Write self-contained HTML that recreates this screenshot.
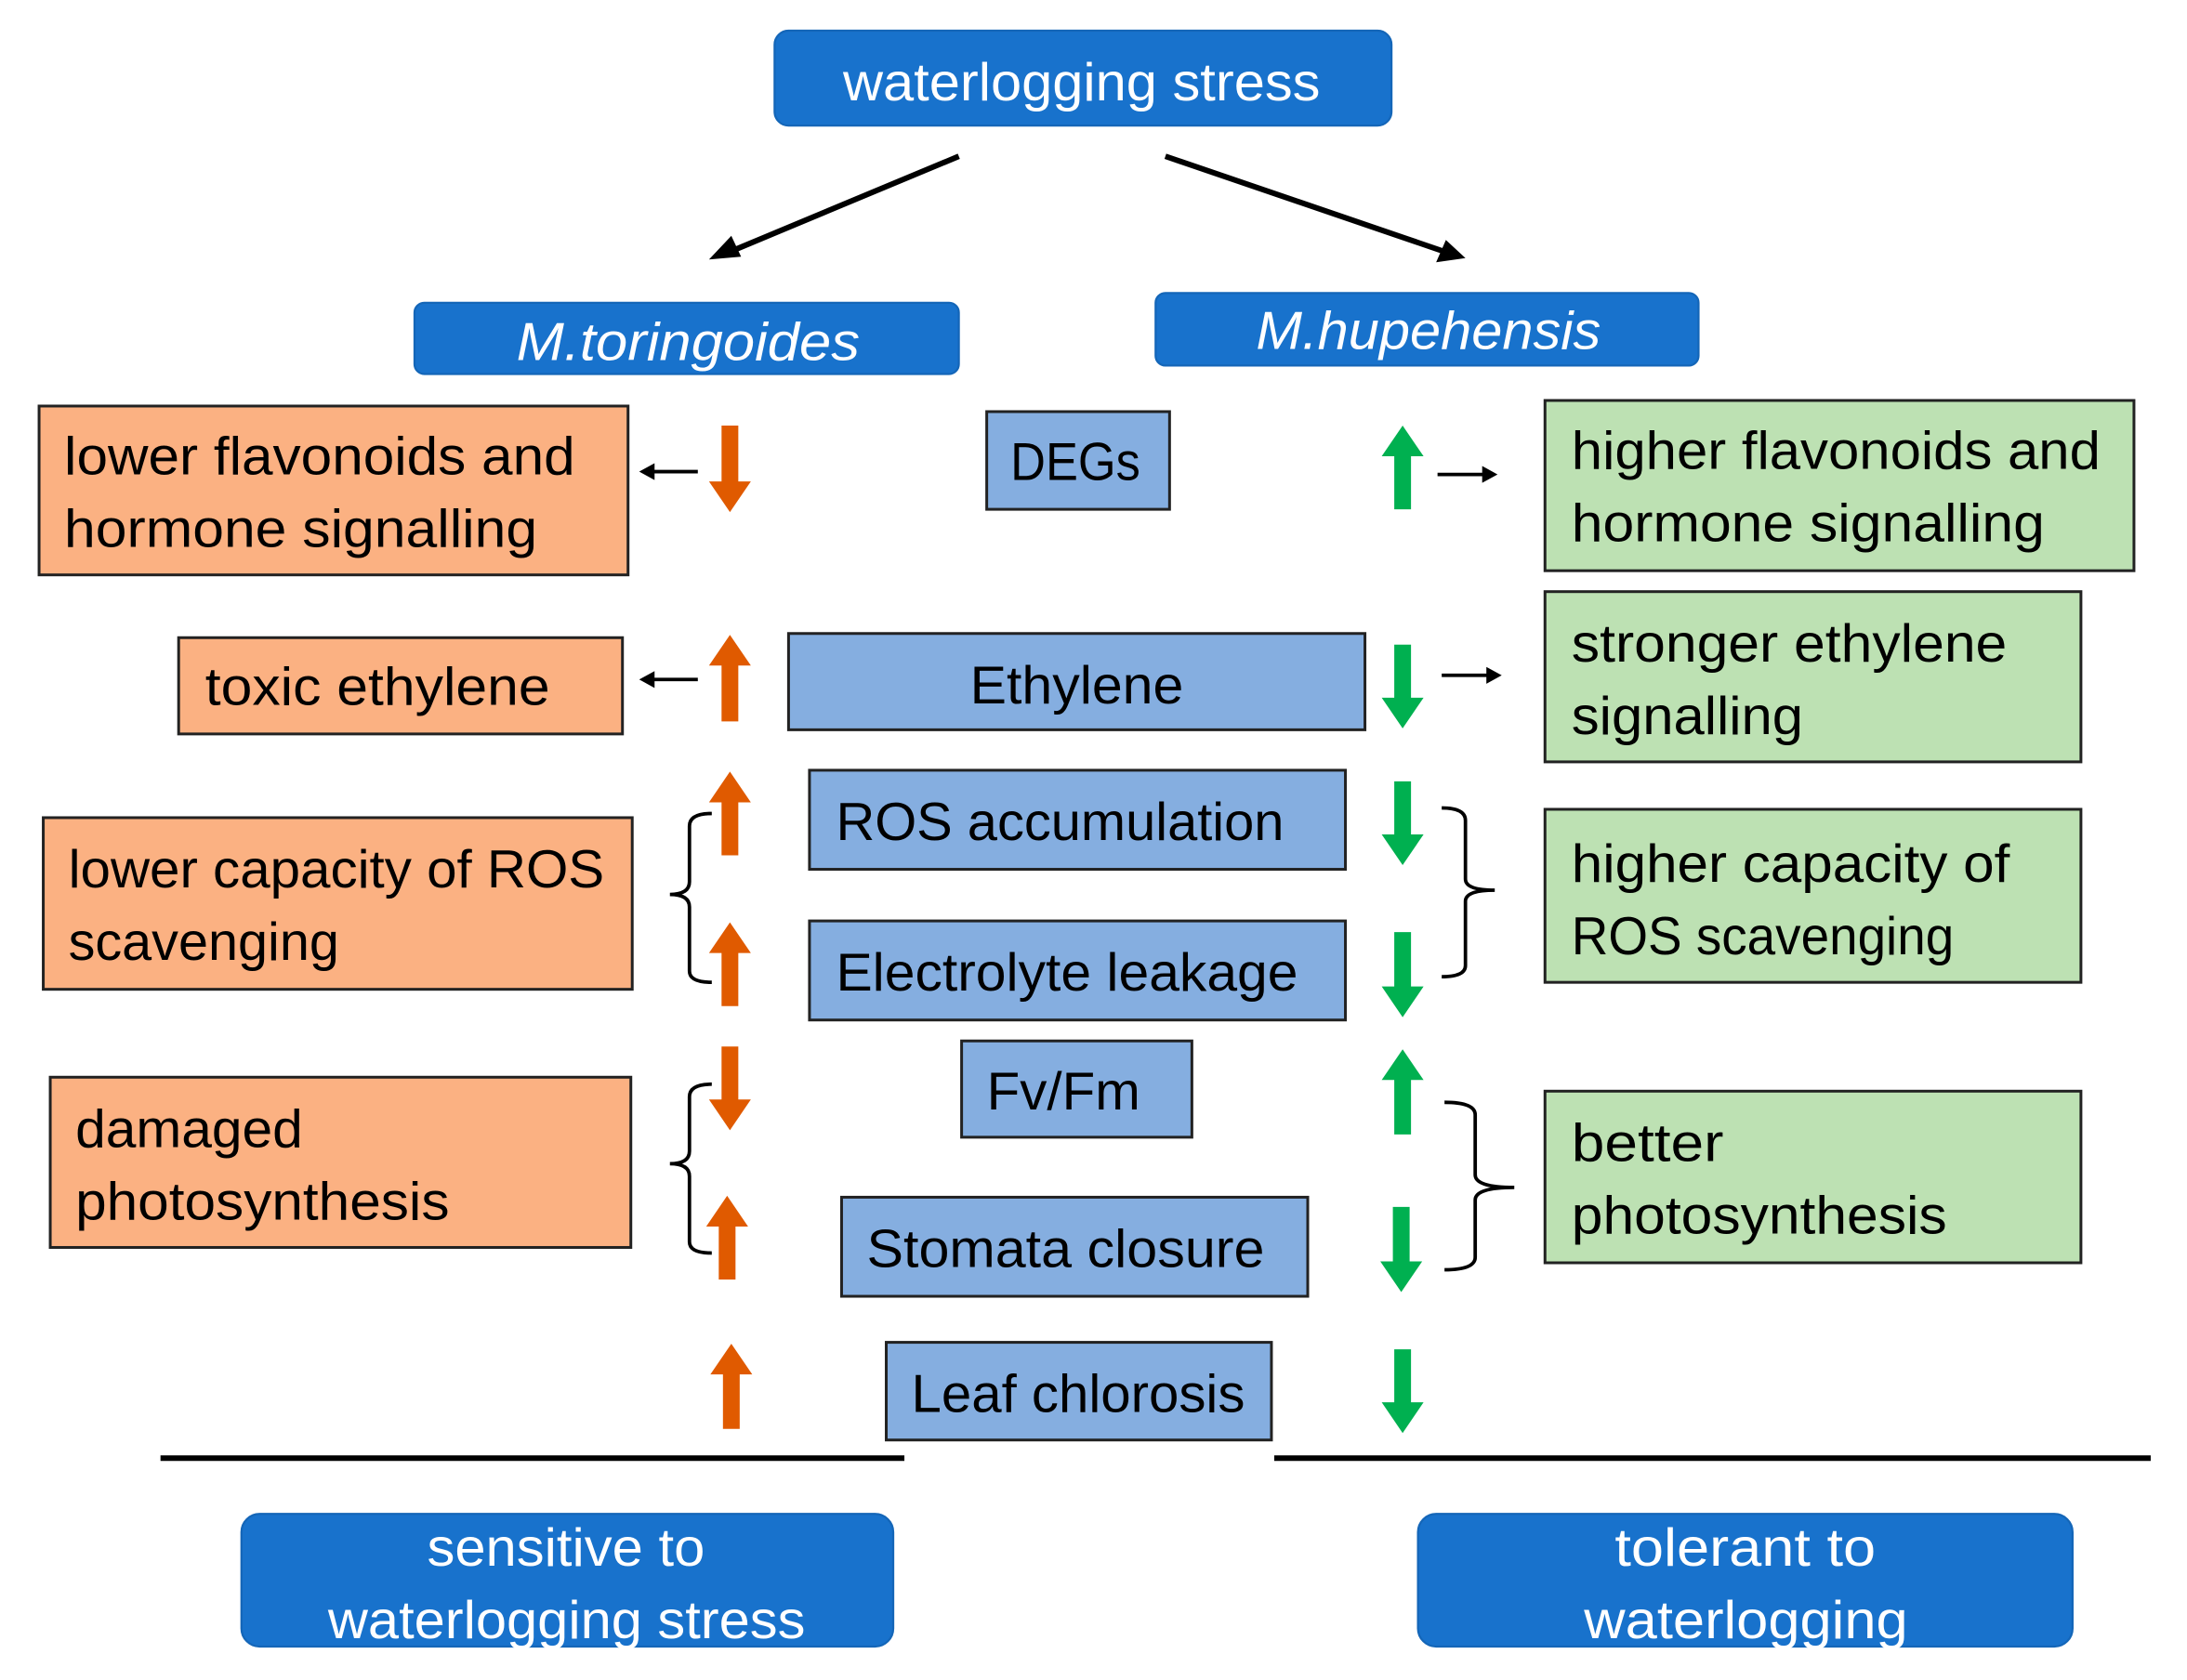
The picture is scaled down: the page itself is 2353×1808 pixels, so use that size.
<!DOCTYPE html>
<html><head><meta charset="utf-8"><style>
html,body{margin:0;padding:0;background:#fff;}
svg{display:block;}
text{font-family:"Liberation Sans",sans-serif;}
</style></head><body>
<svg width="2353" height="1808" viewBox="0 0 1567 1204" preserveAspectRatio="none" xmlns="http://www.w3.org/2000/svg">
<rect width="1567" height="1204" fill="#fff"/>
<g fill="#1872cc" stroke="#1466b8" stroke-width="1.5">
<rect x="555" y="22" width="442" height="68" rx="10"/>
<rect x="297" y="217" width="390" height="51" rx="7"/>
<rect x="828" y="210" width="389" height="52" rx="7"/>
<rect x="173" y="1085" width="467" height="95" rx="13"/>
<rect x="1016" y="1085" width="469" height="95" rx="13"/>
</g>
<g fill="#fff" font-size="38">
<text x="604" y="72" textLength="342" lengthAdjust="spacingAndGlyphs">waterlogging stress</text>
<text x="370" y="258" font-style="italic" textLength="246" lengthAdjust="spacingAndGlyphs">M.toringoides</text>
<text x="900" y="250" font-style="italic" textLength="247" lengthAdjust="spacingAndGlyphs">M.hupehensis</text>
<text x="306" y="1122" textLength="199" lengthAdjust="spacingAndGlyphs">sensitive to</text>
<text x="235" y="1174" textLength="342" lengthAdjust="spacingAndGlyphs">waterlogging stress</text>
<text x="1157" y="1122" textLength="187" lengthAdjust="spacingAndGlyphs">tolerant to</text>
<text x="1135" y="1174" textLength="232" lengthAdjust="spacingAndGlyphs">waterlogging</text>
</g>
<g stroke="#000" stroke-width="4" fill="none">
<line x1="687" y1="112" x2="524" y2="180"/>
<line x1="835" y1="112" x2="1034" y2="180"/>
<line x1="115" y1="1045" x2="648" y2="1045"/>
<line x1="913" y1="1045" x2="1541" y2="1045"/>
</g>
<polygon points="508,186 524,169 531,184" fill="#000"/>
<polygon points="1050,185 1029,188 1036,172" fill="#000"/>
<g stroke="#222" stroke-width="2">
<g fill="#fbb182">
<rect x="28" y="291" width="422" height="121"/>
<rect x="128" y="457" width="318" height="69"/>
<rect x="31" y="586" width="422" height="123"/>
<rect x="36" y="772" width="416" height="122"/>
</g>
<g fill="#bde1b3">
<rect x="1107" y="287" width="422" height="122"/>
<rect x="1107" y="424" width="384" height="122"/>
<rect x="1107" y="580" width="384" height="124"/>
<rect x="1107" y="782" width="384" height="123"/>
</g>
<g fill="#85aee0">
<rect x="707" y="295" width="131" height="70"/>
<rect x="565" y="454" width="413" height="69"/>
<rect x="580" y="552" width="384" height="71"/>
<rect x="580" y="660" width="384" height="71"/>
<rect x="689" y="746" width="165" height="69"/>
<rect x="603" y="858" width="334" height="71"/>
<rect x="635" y="962" width="276" height="70"/>
</g>
</g>
<g fill="#000" font-size="38">
<text x="46" y="340" textLength="366" lengthAdjust="spacingAndGlyphs">lower flavonoids and</text>
<text x="46" y="392" textLength="339" lengthAdjust="spacingAndGlyphs">hormone signalling</text>
<text x="147" y="505" textLength="247" lengthAdjust="spacingAndGlyphs">toxic ethylene</text>
<text x="49" y="636" textLength="384" lengthAdjust="spacingAndGlyphs">lower capacity of ROS</text>
<text x="49" y="688" textLength="194" lengthAdjust="spacingAndGlyphs">scavenging</text>
<text x="54" y="822" textLength="163" lengthAdjust="spacingAndGlyphs">damaged</text>
<text x="54" y="874" textLength="268" lengthAdjust="spacingAndGlyphs">photosynthesis</text>
<text x="724" y="344" textLength="93" lengthAdjust="spacingAndGlyphs">DEGs</text>
<text x="695" y="504" textLength="153" lengthAdjust="spacingAndGlyphs">Ethylene</text>
<text x="599" y="602" textLength="321" lengthAdjust="spacingAndGlyphs">ROS accumulation</text>
<text x="599" y="710" textLength="331" lengthAdjust="spacingAndGlyphs">Electrolyte leakage</text>
<text x="707" y="795" textLength="110" lengthAdjust="spacingAndGlyphs">Fv/Fm</text>
<text x="621" y="908" textLength="285" lengthAdjust="spacingAndGlyphs">Stomata closure</text>
<text x="653" y="1012" textLength="239" lengthAdjust="spacingAndGlyphs">Leaf chlorosis</text>
<text x="1126" y="336" textLength="379" lengthAdjust="spacingAndGlyphs">higher flavonoids and</text>
<text x="1126" y="388" textLength="339" lengthAdjust="spacingAndGlyphs">hormone signalling</text>
<text x="1126" y="474" textLength="312" lengthAdjust="spacingAndGlyphs">stronger ethylene</text>
<text x="1126" y="526" textLength="166" lengthAdjust="spacingAndGlyphs">signalling</text>
<text x="1126" y="632" textLength="314" lengthAdjust="spacingAndGlyphs">higher capacity of</text>
<text x="1126" y="684" textLength="274" lengthAdjust="spacingAndGlyphs">ROS scavenging</text>
<text x="1126" y="832" textLength="109" lengthAdjust="spacingAndGlyphs">better</text>
<text x="1126" y="884" textLength="269" lengthAdjust="spacingAndGlyphs">photosynthesis</text>
</g>
<g fill="#e05a00">
<polygon points="517,305 529,305 529,345 538,345 523,367 508,345 517,345"/>
<polygon points="523,455 538,477 529,477 529,517 517,517 517,477 508,477"/>
<polygon points="523,553 538,575 529,575 529,613 517,613 517,575 508,575"/>
<polygon points="523,661 538,683 529,683 529,721 517,721 517,683 508,683"/>
<polygon points="517,750 529,750 529,788 538,788 523,810 508,788 517,788"/>
<polygon points="521,857 536,879 527,879 527,917 515,917 515,879 506,879"/>
<polygon points="524,963 539,985 530,985 530,1024 518,1024 518,985 509,985"/>
</g>
<g fill="#00b050">
<polygon points="1005,305 1020,327 1011,327 1011,365 999,365 999,327 990,327"/>
<polygon points="999,462 1011,462 1011,500 1020,500 1005,522 990,500 999,500"/>
<polygon points="999,560 1011,560 1011,598 1020,598 1005,620 990,598 999,598"/>
<polygon points="999,668 1011,668 1011,707 1020,707 1005,729 990,707 999,707"/>
<polygon points="1005,752 1020,774 1011,774 1011,813 999,813 999,774 990,774"/>
<polygon points="998,865 1010,865 1010,904 1019,904 1004,926 989,904 998,904"/>
<polygon points="999,967 1011,967 1011,1005 1020,1005 1005,1027 990,1005 999,1005"/>
</g>
<g stroke="#000" stroke-width="2.5">
<line x1="500" y1="338" x2="466" y2="338"/>
<line x1="500" y1="487" x2="466" y2="487"/>
<line x1="1030" y1="340" x2="1065" y2="340"/>
<line x1="1033" y1="484" x2="1068" y2="484"/>
</g>
<g fill="#000">
<polygon points="458,338 469,332 469,344"/>
<polygon points="458,487 469,481 469,493"/>
<polygon points="1073,340 1062,334 1062,346"/>
<polygon points="1076,484 1065,478 1065,490"/>
</g>
<g stroke="#000" stroke-width="2.5" fill="none">
<path d="M510,583 Q494,583 494,592 L494,632 Q494,641 480,641 Q494,641 494,650 L494,696 Q494,704 510,704"/>
<path d="M510,777 Q494,777 494,786 L494,825 Q494,834 480,834 Q494,834 494,843 L494,890 Q494,898 510,898"/>
<path d="M1033,579 Q1050,579 1050,588 L1050,630 Q1050,638 1071,638 Q1050,638 1050,646 L1050,692 Q1050,700 1033,700"/>
<path d="M1035,790 Q1057,790 1057,799 L1057,842 Q1057,851 1085,851 Q1057,851 1057,860 L1057,901 Q1057,910 1035,910"/>
</g>
</svg>
</body></html>
